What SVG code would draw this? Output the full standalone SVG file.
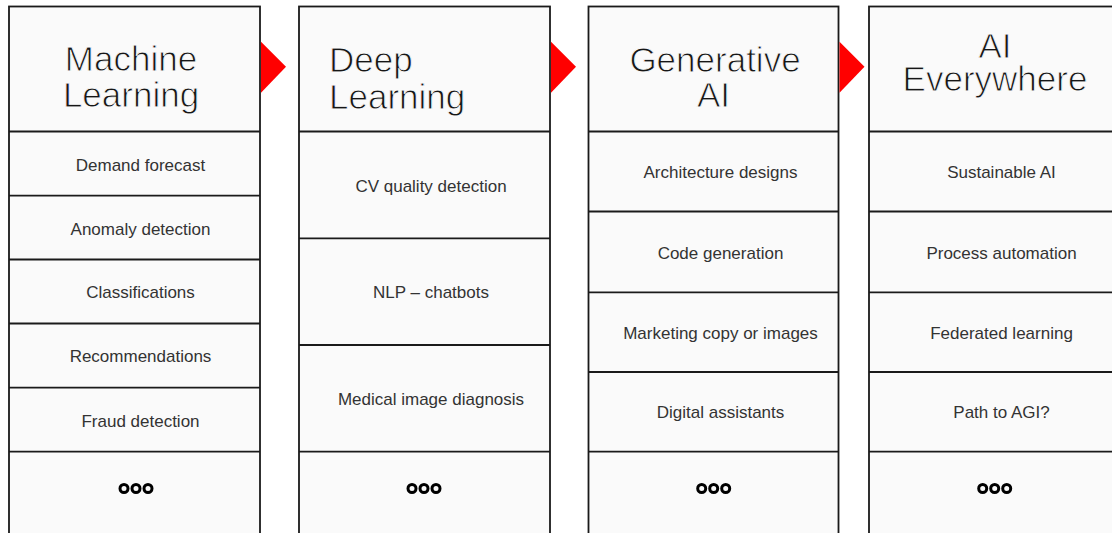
<svg xmlns="http://www.w3.org/2000/svg" width="1112" height="533" viewBox="0 0 1112 533">
<style>
.box{fill:#fafafa;stroke:#1a1a1a;stroke-width:1.8}
.sep{stroke:#1a1a1a;stroke-width:1.8}
.h{font-family:"Liberation Sans",Arial,sans-serif;font-size:35px;fill:#161616;stroke:#fafafa;stroke-width:0.9}
.hm{text-anchor:middle}
.t{font-family:"Liberation Sans",Arial,sans-serif;font-size:17px;fill:#333;text-anchor:middle}
.dot{fill:#fafafa;stroke:#000;stroke-width:3}
.arr{fill:#ff0000}
</style>
<rect x="0" y="0" width="1112" height="533" fill="#ffffff"/>
<g id="col-ml">
<rect class="box" x="9" y="6.5" width="251" height="540"/>
<line class="sep" x1="9" y1="131.5" x2="260" y2="131.5"/>
<line class="sep" x1="9" y1="195.7" x2="260" y2="195.7"/>
<line class="sep" x1="9" y1="259.5" x2="260" y2="259.5"/>
<line class="sep" x1="9" y1="323.5" x2="260" y2="323.5"/>
<line class="sep" x1="9" y1="387.7" x2="260" y2="387.7"/>
<line class="sep" x1="9" y1="451.7" x2="260" y2="451.7"/>
<text class="h hm" x="131" y="71">Machine</text>
<text class="h hm" x="131" y="106.5">Learning</text>
<text class="t" x="140.5" y="170.5">Demand forecast</text>
<text class="t" x="140.5" y="234.5">Anomaly detection</text>
<text class="t" x="140.5" y="298.3">Classifications</text>
<text class="t" x="140.5" y="362.3">Recommendations</text>
<text class="t" x="140.5" y="426.5">Fraud detection</text>
<circle class="dot" cx="124" cy="488.5" r="4"/>
<circle class="dot" cx="136" cy="488.5" r="4"/>
<circle class="dot" cx="148" cy="488.5" r="4"/>
</g>
<g id="col-dl">
<rect class="box" x="299" y="6.5" width="251" height="540"/>
<line class="sep" x1="299" y1="131.5" x2="550" y2="131.5"/>
<line class="sep" x1="299" y1="238.3" x2="550" y2="238.3"/>
<line class="sep" x1="299" y1="345" x2="550" y2="345"/>
<line class="sep" x1="299" y1="451.7" x2="550" y2="451.7"/>
<text class="h" x="329" y="72.3">Deep</text>
<text class="h" x="329" y="108.5">Learning</text>
<text class="t" x="431" y="191.7">CV quality detection</text>
<text class="t" x="431" y="298.3">NLP – chatbots</text>
<text class="t" x="431" y="405">Medical image diagnosis</text>
<circle class="dot" cx="412" cy="488.5" r="4"/>
<circle class="dot" cx="424" cy="488.5" r="4"/>
<circle class="dot" cx="436" cy="488.5" r="4"/>
</g>
<g id="col-genai">
<rect class="box" x="588.5" y="6.5" width="250" height="540"/>
<line class="sep" x1="588.5" y1="131.5" x2="838.5" y2="131.5"/>
<line class="sep" x1="588.5" y1="211.5" x2="838.5" y2="211.5"/>
<line class="sep" x1="588.5" y1="292.3" x2="838.5" y2="292.3"/>
<line class="sep" x1="588.5" y1="372" x2="838.5" y2="372"/>
<line class="sep" x1="588.5" y1="451.7" x2="838.5" y2="451.7"/>
<text class="h hm" x="715" y="71.7">Generative</text>
<text class="h hm" x="713.5" y="106.7">AI</text>
<text class="t" x="720.5" y="178.3">Architecture designs</text>
<text class="t" x="720.5" y="259.3">Code generation</text>
<text class="t" x="720.5" y="339.3">Marketing copy or images</text>
<text class="t" x="720.5" y="418.3">Digital assistants</text>
<circle class="dot" cx="701.7" cy="488.5" r="4"/>
<circle class="dot" cx="713.7" cy="488.5" r="4"/>
<circle class="dot" cx="725.7" cy="488.5" r="4"/>
</g>
<g id="col-aieverywhere">
<rect class="box" x="869" y="6.5" width="251" height="540"/>
<line class="sep" x1="869" y1="131.5" x2="1120" y2="131.5"/>
<line class="sep" x1="869" y1="211.5" x2="1120" y2="211.5"/>
<line class="sep" x1="869" y1="292.3" x2="1120" y2="292.3"/>
<line class="sep" x1="869" y1="372" x2="1120" y2="372"/>
<line class="sep" x1="869" y1="451.7" x2="1120" y2="451.7"/>
<text class="h hm" x="995" y="58">AI</text>
<text class="h hm" x="995" y="91">Everywhere</text>
<text class="t" x="1001.5" y="178.3">Sustainable AI</text>
<text class="t" x="1001.5" y="259.3">Process automation</text>
<text class="t" x="1001.5" y="339.3">Federated learning</text>
<text class="t" x="1001.5" y="418.3">Path to AGI?</text>
<circle class="dot" cx="982.7" cy="488.5" r="4"/>
<circle class="dot" cx="994.7" cy="488.5" r="4"/>
<circle class="dot" cx="1006.7" cy="488.5" r="4"/>
</g>
<g id="connectors">
<polygon class="arr" points="261,41.7 286,66.7 261,92.7"/>
<polygon class="arr" points="551,41.7 576,66.7 551,92.7"/>
<polygon class="arr" points="839.5,41.7 864.5,66.7 839.5,92.7"/>
</g>
</svg>
